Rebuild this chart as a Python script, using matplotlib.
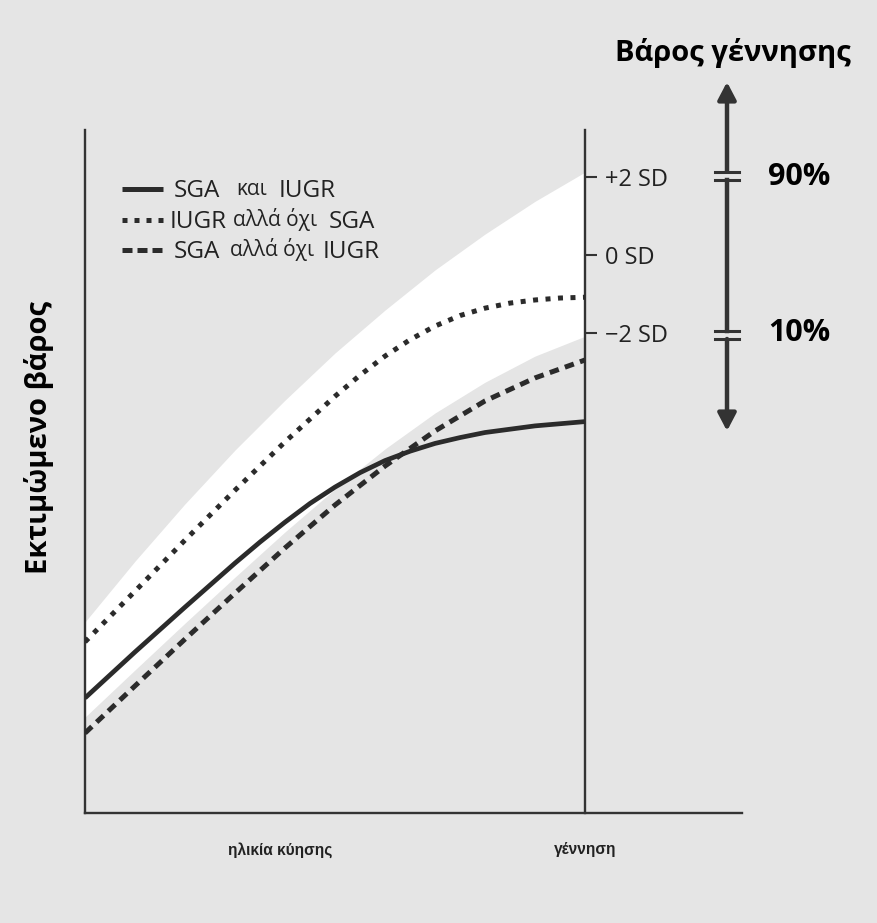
import matplotlib
matplotlib.use("Agg")
import matplotlib.pyplot as plt
from matplotlib.lines import Line2D
from matplotlib.patches import FancyArrowPatch

plt.rcParams['font.family'] = ['Open Sans', 'DejaVu Sans']

# ---------------- data (estimated weight in SD units vs normalised gestation, birth = 1) -------------
gest = [0.0, 0.1, 0.2, 0.3, 0.4, 0.5, 0.6, 0.7, 0.8, 0.9, 1.0]

band_upper = [-9.41, -7.85, -6.38, -5.00, -3.72, -2.51, -1.41, -0.38, 0.54, 1.38, 2.13]
band_lower = [-11.85, -10.64, -9.44, -8.26, -7.10, -6.00, -4.97, -4.05, -3.26, -2.59, -2.08]

sga_iugr_x = [0.0, 0.1, 0.2, 0.3, 0.35, 0.4, 0.45, 0.5, 0.55, 0.6, 0.65, 0.7, 0.75, 0.8, 0.9, 1.0]
sga_iugr_y = [-11.36, -10.18, -9.03, -7.90, -7.36, -6.85, -6.37, -5.95, -5.58, -5.27, -5.03,
              -4.83, -4.68, -4.55, -4.38, -4.27]

iugr_not_sga_x = [0.0, 0.1, 0.2, 0.3, 0.4, 0.5, 0.55, 0.6, 0.65, 0.7, 0.75, 0.8, 0.85, 0.9, 0.95, 1.0]
iugr_not_sga_y = [-9.92, -8.62, -7.31, -6.03, -4.79, -3.62, -3.08, -2.59, -2.17, -1.82, -1.55,
                  -1.36, -1.23, -1.15, -1.10, -1.08]

sga_not_iugr_x = [0.0, 0.1, 0.2, 0.3, 0.4, 0.5, 0.6, 0.7, 0.8, 0.9, 1.0]
sga_not_iugr_y = [-12.26, -11.05, -9.85, -8.67, -7.51, -6.41, -5.41, -4.51, -3.74, -3.15, -2.69]

sd_ticks = [2, 0, -2]
sd_labels = ['+2 SD', '0 SD', '\u22122 SD']
x_ticks = [0.39, 1.0]
x_labels = ['ηλικία κύησης', 'γέννηση']
pct_labels = ['90%', '10%']

# ---------------- figure ----------------
W, H = 878, 923
BG = '#e5e5e5'
INK = '#2b2b2b'
fig = plt.figure(figsize=(W / 100, H / 100), dpi=100, facecolor=BG)


def F(x, y):
    return (x / W, 1 - y / H)


ax = fig.add_axes([85 / W, (H - 813) / H, (742 - 85) / W, (813 - 130) / H])
ax.set_facecolor(BG)
ax.set_xlim(0, 1.314)
ax.set_ylim(-14.31, 3.21)

# white reference band
ax.fill_between(gest, band_lower, band_upper, color='white', lw=0, zorder=1)

ax.plot(sga_iugr_x, sga_iugr_y, color=INK, lw=3.4, solid_capstyle='butt',
        solid_joinstyle='round', zorder=3)
ax.plot(iugr_not_sga_x, iugr_not_sga_y, color=INK, lw=3.6,
        linestyle=(0, (1.0, 1.5)), dash_capstyle='butt', zorder=3)
ax.plot(sga_not_iugr_x, sga_not_iugr_y, color=INK, lw=3.6,
        linestyle=(0, (1.9, 1.3)), dash_capstyle='butt', zorder=3)

ax.spines['top'].set_visible(False)
for s in ['left', 'bottom', 'right']:
    ax.spines[s].set_color('#333333')
    ax.spines[s].set_linewidth(1.7)
ax.spines['right'].set_position(('data', 1.0))

ax.yaxis.tick_right()
ax.set_yticks(sd_ticks)
ax.set_yticklabels(sd_labels)
ax.tick_params(axis='y', direction='out', length=8.6, width=1.5, color='#333333',
               pad=6, labelsize=17, labelcolor='#222222')
ax.set_xticks(x_ticks)
ax.set_xticklabels(x_labels, fontfamily=['Liberation Sans', 'DejaVu Sans'],
                   fontweight='bold', fontsize=11.2, color='#222222')
ax.tick_params(axis='x', length=0, pad=21)

# y-axis title and header
fig.text(*F(39, 437), 'Εκτιμώμενο βάρος', rotation=90, fontsize=21, fontweight='bold',
         ha='center', va='center', color='black')
fig.text(*F(733, 53), 'Βάρος γέννησης', fontsize=21, fontweight='bold',
         ha='center', va='center', color='black')

# legend
CAP, GR = 17.5, 15
leg_items = [
    (189, dict(ls='-', lw=3.6, solid_capstyle='butt'),
     [('SGA', 174, 197, CAP), ('και', 236, 195, GR), ('IUGR', 279, 197, CAP)]),
    (220, dict(ls=(0, (1.0, 1.4)), lw=3.6, dash_capstyle='butt'),
     [('IUGR', 170, 228, CAP), ('αλλά όχι', 233, 226, GR), ('SGA', 329, 228, CAP)]),
    (250, dict(ls=(0, (2.0, 1.0)), lw=3.6, dash_capstyle='butt'),
     [('SGA', 174, 258, CAP), ('αλλά όχι', 230, 256, GR), ('IUGR', 323, 258, CAP)]),
]
for ly_, style, texts in leg_items:
    (x0, y0), (x1, y1) = F(122, ly_), F(163, ly_)
    fig.add_artist(Line2D([x0, x1], [y0, y1], color=INK, transform=fig.transFigure, **style))
    for t, tx, ty, fs in texts:
        fig.text(*F(tx, ty), t, fontsize=fs, ha='left', va='baseline', color='#222222')

# birth-weight arrow with breaks
AX_X = 727
ACOL = '#333333'
arrow_kw = dict(transform=fig.transFigure, arrowstyle='-|>,head_length=1.05,head_width=0.55',
                mutation_scale=10, color=ACOL, lw=3.2, shrinkA=0, shrinkB=0)
fig.add_artist(FancyArrowPatch(F(AX_X, 171), F(AX_X, 82), **arrow_kw))
fig.add_artist(FancyArrowPatch(F(AX_X, 339), F(AX_X, 431), **arrow_kw))
(sx, sy0), (_, sy1) = F(AX_X, 180), F(AX_X, 331)
fig.add_artist(Line2D([sx, sx], [sy0, sy1], color=ACOL, lw=3.2, transform=fig.transFigure))
for yy in [172, 180, 331, 339]:
    (a, b), (c, d) = F(715, yy), F(739, yy)
    fig.add_artist(Line2D([a, c], [b, d], color=ACOL, lw=2.2, transform=fig.transFigure))

for lab, yy in zip(pct_labels, [177, 333]):
    fig.text(*F(799, yy), lab, fontsize=22, fontweight='bold', ha='center', va='center',
             color='black')

fig.savefig('out.png', dpi=100, facecolor=BG)
